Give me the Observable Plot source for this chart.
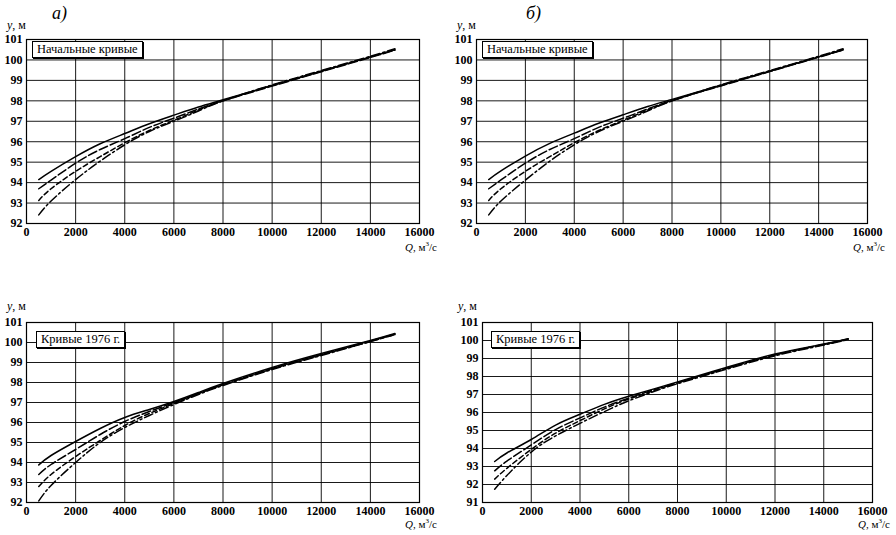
<!DOCTYPE html>
<html><head><meta charset="utf-8">
<script src="https://cdn.jsdelivr.net/npm/d3@7"></script>
<script src="https://cdn.jsdelivr.net/npm/@observablehq/plot@0.6"></script>
<style>
body{margin:0;background:#fff;}
#root{position:relative;width:896px;height:535px;overflow:hidden;font-family:"Liberation Serif","DejaVu Serif","Noto Serif","Times New Roman",serif;color:#000;}
.panel{position:absolute;}
.lbl{position:absolute;font-family:"Liberation Serif","DejaVu Serif","Noto Serif","Times New Roman",serif;white-space:nowrap;}
.box{position:absolute;border:1px solid #000;background:#fff;box-shadow:1px 1px 0 #000;font-family:"Liberation Serif","DejaVu Serif","Noto Serif","Times New Roman",serif;font-size:12.5px;padding:0 4px;line-height:15px;white-space:nowrap;}
svg text{font-family:"Liberation Serif","DejaVu Serif","Noto Serif","Times New Roman",serif !important;font-weight:bold;}
</style></head>
<body><div id="root"></div>
<script>
const Q = [500, 1000, 2000, 3000, 4000, 5000, 6000, 7000, 8000, 10000, 12000, 14000, 15000];
const xTicks = [0, 2000, 4000, 6000, 8000, 10000, 12000, 14000, 16000];
const yTicksTop = [92, 93, 94, 95, 96, 97, 98, 99, 100, 101];
const yTicksBR = [91, 92, 93, 94, 95, 96, 97, 98, 99, 100, 101];
// panel а) initial curves
const a1 = [94.15, 94.55, 95.27, 95.9, 96.4, 96.88, 97.3, 97.7, 98.05, 98.75, 99.45, 100.15, 100.5];
const a2 = [93.7, 94.12, 94.95, 95.62, 96.15, 96.7, 97.15, 97.6, 98.0, 98.72, 99.42, 100.12, 100.48];
const a3 = [93.13, 93.7, 94.55, 95.27, 95.95, 96.55, 97.05, 97.55, 98.0, 98.75, 99.45, 100.15, 100.5];
const a4 = [92.42, 93.1, 94.15, 95.05, 95.85, 96.5, 97.0, 97.5, 98.0, 98.78, 99.48, 100.18, 100.55];
// panel б) initial curves
const b1 = [94.15, 94.57, 95.3, 95.92, 96.42, 96.9, 97.32, 97.72, 98.07, 98.76, 99.45, 100.15, 100.5];
const b2 = [93.7, 94.13, 94.95, 95.62, 96.15, 96.7, 97.15, 97.6, 98.02, 98.73, 99.43, 100.13, 100.48];
const b3 = [93.13, 93.7, 94.55, 95.27, 95.95, 96.55, 97.05, 97.55, 98.0, 98.75, 99.45, 100.15, 100.5];
const b4 = [92.42, 93.1, 94.12, 95.05, 95.85, 96.5, 97.0, 97.5, 98.0, 98.78, 99.48, 100.18, 100.55];
// panel а) 1976 curves
const c1 = [93.88, 94.35, 95.05, 95.7, 96.25, 96.65, 97.05, 97.5, 97.95, 98.75, 99.45, 100.1, 100.45];
const c2 = [93.4, 93.9, 94.65, 95.4, 96.05, 96.55, 97.0, 97.45, 97.9, 98.7, 99.4, 100.08, 100.42];
const c3 = [92.8, 93.4, 94.3, 95.1, 95.85, 96.45, 96.95, 97.45, 97.88, 98.68, 99.38, 100.05, 100.4];
const c4 = [92.08, 92.85, 94.0, 95.0, 95.75, 96.35, 96.9, 97.4, 97.85, 98.65, 99.35, 100.05, 100.4];
// panel б) 1976 curves
const d1 = [93.28, 93.75, 94.5, 95.3, 95.9, 96.45, 96.9, 97.3, 97.7, 98.5, 99.25, 99.8, 100.1];
const d2 = [92.76, 93.3, 94.2, 95.05, 95.7, 96.3, 96.8, 97.25, 97.65, 98.45, 99.2, 99.78, 100.08];
const d3 = [92.3, 92.9, 93.95, 94.85, 95.55, 96.2, 96.75, 97.2, 97.65, 98.45, 99.2, 99.78, 100.08];
const d4 = [91.74, 92.5, 93.8, 94.7, 95.4, 96.05, 96.65, 97.15, 97.6, 98.4, 99.15, 99.75, 100.05];

const dashes = [null, "9,3", "5,3", "9,3,2,3"];
const root = document.getElementById("root");

function panel({left, top, width, height, mL, mR, mT, mB, yDom, yTicks, series, label, boxX, boxY}) {
  const marks = [
    Plot.gridX(xTicks, {stroke: "#000", strokeOpacity: 0.9, strokeWidth: 1}),
    Plot.gridY(yTicks, {stroke: "#000", strokeOpacity: 0.9, strokeWidth: 1}),
    Plot.frame({stroke: "#000", strokeWidth: 1.2}),
    Plot.axisX(xTicks, {tickSize: 0, tickPadding: 4, fontSize: 12, fontWeight: "bold", label: null, tickFormat: d => String(d)}),
    Plot.axisY(yTicks, {tickSize: 0, tickPadding: 4, fontSize: 12, fontWeight: "bold", label: null})
  ];
  series.forEach((s, i) => {
    const data = Q.map((q, j) => ({q, y: s[j]}));
    const opts = {x: "q", y: "y", curve: "natural", stroke: "#000", strokeWidth: 1.5};
    if (dashes[i]) opts.strokeDasharray = dashes[i];
    marks.push(Plot.line(data, opts));
  });
  const svg = Plot.plot({
    width, height, marginLeft: mL, marginRight: mR, marginTop: mT, marginBottom: mB,
    x: {domain: [0, 16000]}, y: {domain: yDom},
    style: {background: "transparent", color: "#000", fontFamily: "'Liberation Serif', 'DejaVu Serif', serif"},
    marks
  });
  const div = document.createElement("div");
  div.className = "panel";
  div.style.left = left + "px"; div.style.top = top + "px";
  div.appendChild(svg);
  root.appendChild(div);
  const b = document.createElement("div");
  b.className = "box"; b.textContent = label;
  b.style.left = boxX + "px"; b.style.top = boxY + "px";
  root.appendChild(b);
}

panel({left: 0, top: 0, width: 448, height: 262, mL: 26, mR: 29, mT: 39, mB: 39, yDom: [92, 101], yTicks: yTicksTop, series: [a1, a2, a3, a4], label: "Начальные кривые", boxX: 32, boxY: 41});
panel({left: 450, top: 0, width: 446, height: 262, mL: 26, mR: 29, mT: 39, mB: 39, yDom: [92, 101], yTicks: yTicksTop, series: [b1, b2, b3, b4], label: "Начальные кривые", boxX: 482, boxY: 41});
panel({left: 0, top: 268, width: 448, height: 267, mL: 26, mR: 29, mT: 54, mB: 33, yDom: [92, 101], yTicks: yTicksTop, series: [c1, c2, c3, c4], label: "Кривые 1976 г.", boxX: 36, boxY: 331});
panel({left: 450, top: 268, width: 446, height: 267, mL: 32, mR: 24, mT: 54, mB: 33, yDom: [91, 101], yTicks: yTicksBR, series: [d1, d2, d3, d4], label: "Кривые 1976 г.", boxX: 491, boxY: 331});

function addLabel(html, x, y, size, extra) {
  const l = document.createElement("div");
  l.className = "lbl"; l.innerHTML = html;
  l.style.left = x + "px"; l.style.top = y + "px"; l.style.fontSize = size + "px";
  if (extra) Object.assign(l.style, extra);
  root.appendChild(l);
}
const yLab = "<i>у</i>, м";
const qLab = "<i>Q</i>, м<sup style='font-size:7px'>3</sup>/с";
addLabel(yLab, 7, 18, 12);
addLabel(yLab, 457, 18, 12);
addLabel(yLab, 7, 299, 12);
addLabel(yLab, 458, 299, 12);
addLabel(qLab, 405, 240, 11);
addLabel(qLab, 853, 240, 11);
addLabel(qLab, 405, 517, 11);
addLabel(qLab, 858, 517, 11);
addLabel("а)", 52, 3, 18, {fontStyle: "italic"});
addLabel("б)", 526, 3, 18, {fontStyle: "italic"});
</script></body></html>
